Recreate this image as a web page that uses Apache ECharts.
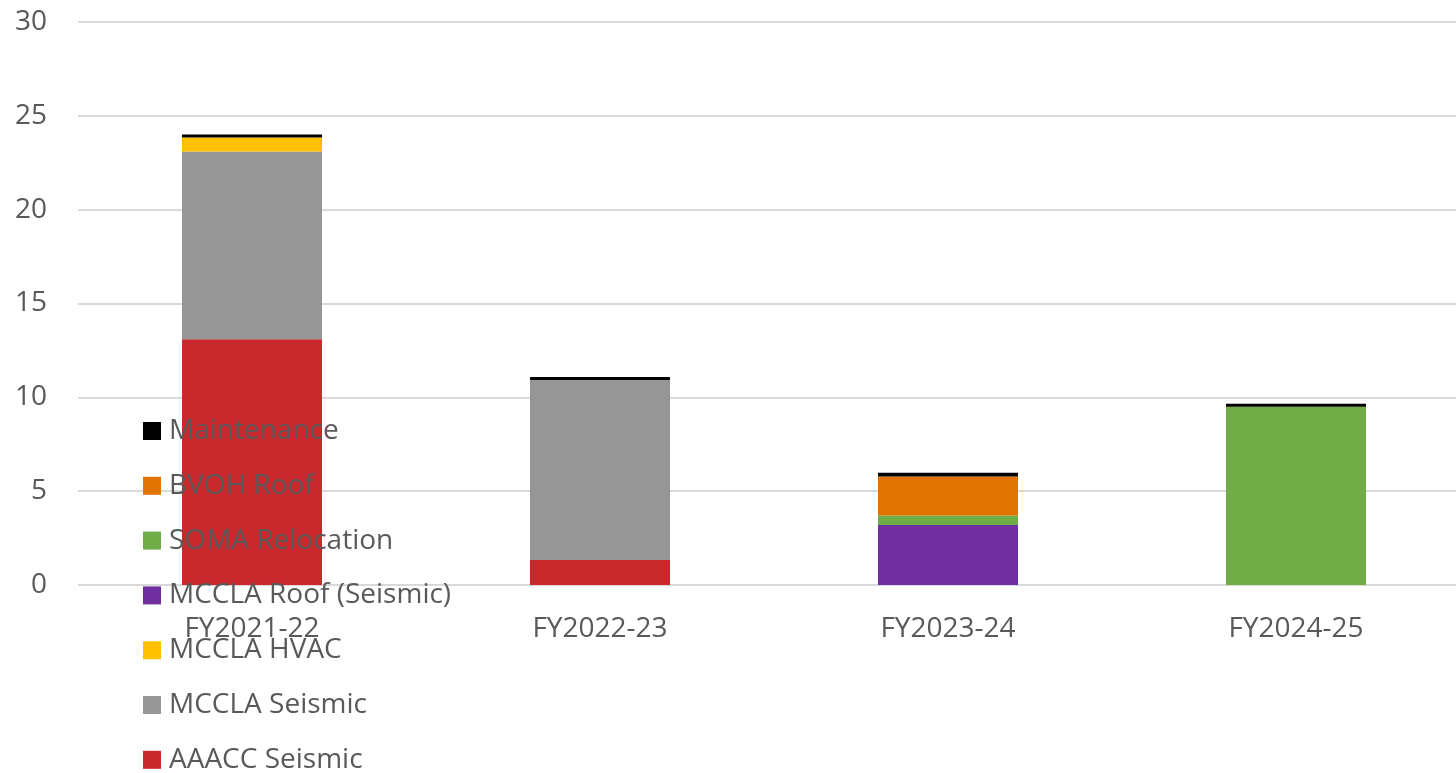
<!DOCTYPE html>
<html><head><meta charset="utf-8">
<script src="https://cdn.jsdelivr.net/npm/echarts@6/dist/echarts.min.js"></script>
<style>html,body{margin:0;padding:0;background:#fff;overflow:hidden;width:1456px;height:773px}#c{width:1470px;height:773px}</style>
</head><body><div id="c"></div>
<script>
const categories = ['FY2021-22','FY2022-23','FY2023-24','FY2024-25'];
const aaaccSeismic = [13.1, 1.33, 0, 0];
const mcclaSeismic = [10.0, 9.6, 0, 0];
const mcclaHvac = [0.75, 0, 0, 0];
const mcclaRoofSeismic = [0, 0, 3.2, 0];
const somaRelocation = [0, 0, 0.5, 9.5];
const bvohRoof = [0, 0, 2.08, 0];
const maintenance = [0.16, 0.16, 0.2, 0.16];
const yTicks = [0, 5, 10, 15, 20, 25, 30];

const seriesDefs = [
  ['AAACC Seismic', aaaccSeismic, '#C9282D'],
  ['MCCLA Seismic', mcclaSeismic, '#969696'],
  ['MCCLA HVAC', mcclaHvac, '#FFC000'],
  ['MCCLA Roof (Seismic)', mcclaRoofSeismic, '#7030A0'],
  ['SOMA Relocation', somaRelocation, '#70AD47'],
  ['BVOH Roof', bvohRoof, '#E07400'],
  ['Maintenance', maintenance, '#000000']
];
const font = '"Open Sans", "Liberation Sans", sans-serif';
const chart = echarts.init(document.getElementById('c'));
chart.setOption({
  animation: false,
  textStyle: {fontFamily: font},
  grid: {left: 78, right: 0, top: 22, bottom: 188, containLabel: false},
  legend: {
    orient: 'vertical', left: 143, top: 417, height: 600, padding: 0,
    data: seriesDefs.map(s => s[0]).reverse(),
    itemWidth: 18, itemHeight: 18, itemGap: 26.8,
    icon: 'rect',
    textStyle: {fontSize: 28, color: '#595959', fontFamily: font, lineHeight: 24, padding: [0,0,0,3]}
  },
  xAxis: {
    type: 'category', data: categories,
    axisLine: {show: false}, axisTick: {show: false},
    axisLabel: {fontSize: 28, color: '#595959', margin: 30, fontFamily: font}
  },
  yAxis: {
    type: 'value', min: yTicks[0], max: yTicks[yTicks.length-1], interval: 5,
    axisLine: {show: false}, axisTick: {show: false},
    axisLabel: {fontSize: 28, color: '#595959', margin: 31, fontFamily: font},
    splitLine: {lineStyle: {color: '#D9D9D9', width: 2}}
  },
  series: seriesDefs.map(([name, data, color]) => ({
    name, type: 'bar', stack: 'total', data, barWidth: 140,
    itemStyle: {color}
  }))
});
</script></body></html>
